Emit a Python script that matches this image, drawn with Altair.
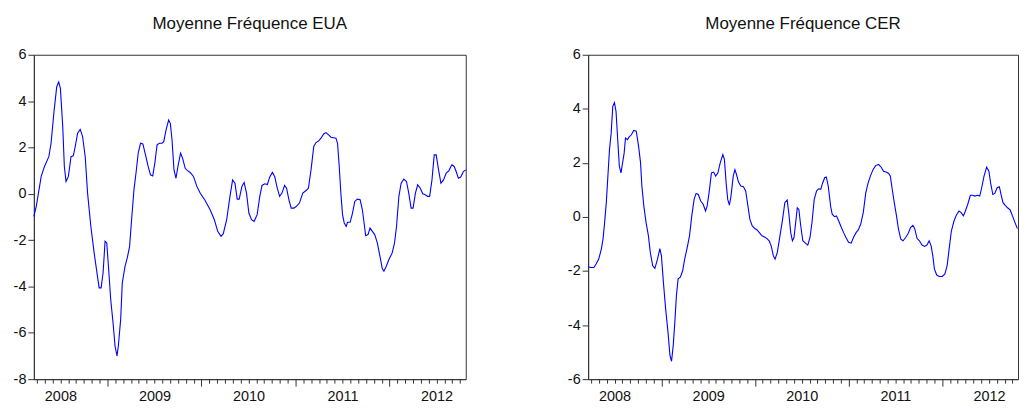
import altair as alt
import pandas as pd

TITLES = ["Moyenne Fréquence EUA", "Moyenne Fréquence CER"]
YEAR_LABELS = [2008, 2009, 2010, 2011, 2012]

EUA_T = [2008.218, 2008.243, 2008.296, 2008.331, 2008.377, 2008.401, 2008.430, 2008.461, 2008.482, 2008.500,
         2008.525, 2008.542, 2008.560, 2008.585, 2008.613, 2008.637, 2008.658, 2008.683, 2008.711, 2008.736,
         2008.764, 2008.789, 2008.824, 2008.859, 2008.884, 2008.912, 2008.933, 2008.954, 2008.975, 2008.993,
         2009.011, 2009.035, 2009.060, 2009.081, 2009.102, 2009.116, 2009.141, 2009.158, 2009.187, 2009.211,
         2009.236, 2009.257, 2009.282, 2009.306, 2009.327, 2009.352, 2009.377, 2009.405, 2009.433, 2009.458,
         2009.482, 2009.504, 2009.528, 2009.553, 2009.581, 2009.599, 2009.623, 2009.651, 2009.669, 2009.687,
         2009.708, 2009.729, 2009.750, 2009.778, 2009.799, 2009.827, 2009.852, 2009.880, 2009.915, 2009.951,
         2009.986, 2010.039, 2010.092, 2010.137, 2010.173, 2010.208, 2010.232, 2010.268, 2010.303, 2010.331,
         2010.356, 2010.380, 2010.401, 2010.430, 2010.454, 2010.479, 2010.504, 2010.532, 2010.560, 2010.592,
         2010.620, 2010.644, 2010.673, 2010.701, 2010.725, 2010.754, 2010.778, 2010.806, 2010.831, 2010.856,
         2010.884, 2010.905, 2010.930, 2010.954, 2010.982, 2011.007, 2011.042, 2011.077, 2011.113, 2011.137,
         2011.165, 2011.194, 2011.218, 2011.246, 2011.271, 2011.299, 2011.324, 2011.352, 2011.377, 2011.405,
         2011.430, 2011.447, 2011.465, 2011.482, 2011.500, 2011.518, 2011.539, 2011.553, 2011.581, 2011.606,
         2011.630, 2011.658, 2011.687, 2011.711, 2011.729, 2011.746, 2011.771, 2011.792, 2011.817, 2011.842,
         2011.870, 2011.898, 2011.923, 2011.940, 2011.965, 2011.993, 2012.028, 2012.053, 2012.074, 2012.099,
         2012.123, 2012.151, 2012.180, 2012.204, 2012.229, 2012.250, 2012.275, 2012.299, 2012.327, 2012.352,
         2012.380, 2012.405, 2012.426, 2012.451, 2012.475, 2012.496, 2012.521, 2012.546, 2012.574, 2012.602,
         2012.630, 2012.662, 2012.687, 2012.708, 2012.732, 2012.757, 2012.785, 2012.810]
EUA_V = [-0.98, -0.55, 0.75, 1.18, 1.60, 2.18, 3.47, 4.62, 4.83, 4.55,
         2.90, 1.18, 0.53, 0.75, 1.60, 1.64, 2.04, 2.61, 2.78, 2.47,
         1.60, 0.03, -1.41, -2.55, -3.27, -4.06, -4.06, -3.41, -2.05, -2.12,
         -3.13, -4.56, -5.57, -6.57, -7.00, -6.57, -5.42, -3.85, -3.13, -2.77,
         -2.27, -1.12, 0.17, 0.96, 1.75, 2.18, 2.15, 1.68, 1.18, 0.82,
         0.77, 1.32, 2.11, 2.18, 2.18, 2.25, 2.75, 3.18, 3.04, 2.32,
         1.03, 0.67, 1.18, 1.75, 1.54, 1.10, 1.00, 0.92, 0.75, 0.32,
         0.03, -0.29, -0.69, -1.12, -1.62, -1.84, -1.72, -1.12, -0.11, 0.60,
         0.46, -0.23, -0.23, 0.32, 0.49, 0.03, -0.83, -1.12, -1.19, -0.90,
         -0.11, 0.36, 0.43, 0.40, 0.72, 0.92, 0.75, 0.24, -0.11, 0.03,
         0.36, 0.24, -0.26, -0.62, -0.62, -0.55, -0.40, 0.03, 0.14, 0.24,
         1.03, 2.04, 2.21, 2.28, 2.40, 2.58, 2.64, 2.54, 2.44, 2.42,
         2.40, 2.18, 1.18, 0.03, -0.90, -1.26, -1.41, -1.23, -1.23, -0.83,
         -0.33, -0.23, -0.26, -0.69, -1.26, -1.81, -1.76, -1.48, -1.62, -1.76,
         -2.12, -2.70, -3.24, -3.34, -3.13, -2.84, -2.55, -2.12, -1.41, -0.11,
         0.46, 0.63, 0.53, 0.03, -0.62, -0.62, 0.03, 0.39, 0.24, 0.00,
         -0.04, -0.11, -0.11, 0.60, 1.68, 1.68, 1.03, 0.46, 0.60, 0.89,
         0.99, 1.25, 1.18, 0.96, 0.67, 0.72, 0.96, 1.03]

CER_T = [2008.220, 2008.244, 2008.279, 2008.303, 2008.331, 2008.359, 2008.377, 2008.394, 2008.412, 2008.429,
         2008.446, 2008.464, 2008.481, 2008.499, 2008.516, 2008.534, 2008.551, 2008.569, 2008.586, 2008.603,
         2008.617, 2008.638, 2008.656, 2008.680, 2008.705, 2008.732, 2008.757, 2008.778, 2008.792, 2008.813,
         2008.837, 2008.862, 2008.882, 2008.907, 2008.931, 2008.959, 2008.984, 2009.001, 2009.022, 2009.046,
         2009.071, 2009.092, 2009.109, 2009.127, 2009.144, 2009.161, 2009.179, 2009.203, 2009.228, 2009.249,
         2009.273, 2009.301, 2009.325, 2009.350, 2009.371, 2009.395, 2009.420, 2009.447, 2009.472, 2009.489,
         2009.510, 2009.535, 2009.559, 2009.580, 2009.604, 2009.629, 2009.657, 2009.674, 2009.692, 2009.709,
         2009.727, 2009.744, 2009.768, 2009.786, 2009.803, 2009.824, 2009.849, 2009.877, 2009.901, 2009.925,
         2009.946, 2009.971, 2009.999, 2010.023, 2010.051, 2010.075, 2010.103, 2010.128, 2010.152, 2010.173,
         2010.197, 2010.215, 2010.239, 2010.267, 2010.295, 2010.319, 2010.344, 2010.361, 2010.382, 2010.400,
         2010.417, 2010.435, 2010.452, 2010.469, 2010.487, 2010.511, 2010.539, 2010.564, 2010.588, 2010.609,
         2010.633, 2010.658, 2010.679, 2010.703, 2010.721, 2010.745, 2010.762, 2010.783, 2010.808, 2010.825,
         2010.850, 2010.871, 2010.895, 2010.923, 2010.947, 2010.972, 2011.000, 2011.028, 2011.052, 2011.080,
         2011.104, 2011.129, 2011.157, 2011.184, 2011.209, 2011.233, 2011.261, 2011.289, 2011.321, 2011.349,
         2011.373, 2011.401, 2011.429, 2011.446, 2011.464, 2011.488, 2011.512, 2011.533, 2011.558, 2011.582,
         2011.610, 2011.638, 2011.662, 2011.687, 2011.708, 2011.732, 2011.757, 2011.784, 2011.812, 2011.837,
         2011.861, 2011.882, 2011.900, 2011.917, 2011.942, 2011.969, 2012.001, 2012.029, 2012.053, 2012.074,
         2012.098, 2012.126, 2012.151, 2012.179, 2012.203, 2012.227, 2012.248, 2012.273, 2012.301, 2012.325,
         2012.349, 2012.377, 2012.401, 2012.422, 2012.447, 2012.475, 2012.499, 2012.517, 2012.541, 2012.562,
         2012.587, 2012.611, 2012.629, 2012.650, 2012.674, 2012.698, 2012.726, 2012.751, 2012.775, 2012.803]
CER_V = [-1.84, -1.87, -1.87, -1.74, -1.56, -1.19, -0.82, -0.21, 0.53, 1.51,
         2.49, 3.10, 4.09, 4.23, 3.90, 2.86, 1.88, 1.63, 2.00, 2.37,
         2.92, 2.86, 2.96, 3.04, 3.20, 3.17, 2.61, 2.00, 1.14, 0.40,
         -0.21, -0.70, -1.31, -1.80, -1.90, -1.56, -1.17, -1.44, -2.42, -3.40,
         -4.26, -5.12, -5.34, -4.75, -3.89, -2.91, -2.29, -2.23, -1.99, -1.56,
         -1.19, -0.70, 0.04, 0.65, 0.87, 0.83, 0.59, 0.47, 0.22, 0.40,
         0.90, 1.63, 1.66, 1.51, 1.63, 2.00, 2.31, 2.12, 1.26, 0.65,
         0.44, 0.77, 1.51, 1.75, 1.57, 1.29, 1.14, 1.12, 0.96, 0.40,
         -0.09, -0.33, -0.43, -0.48, -0.60, -0.70, -0.74, -0.80, -0.88, -1.07,
         -1.44, -1.56, -1.31, -0.70, -0.09, 0.53, 0.63, 0.16, -0.58, -0.88,
         -0.76, -0.21, 0.34, 0.28, -0.27, -0.88, -0.97, -1.04, -0.76, -0.21,
         0.65, 0.96, 1.04, 1.02, 1.24, 1.45, 1.48, 1.14, 0.40, 0.10,
         0.01, 0.04, -0.15, -0.39, -0.58, -0.76, -0.94, -0.97, -0.76, -0.58,
         -0.48, -0.27, 0.16, 0.90, 1.26, 1.51, 1.75, 1.90, 1.94, 1.84,
         1.69, 1.66, 1.61, 1.51, 1.08, 0.53, 0.04, -0.45, -0.82, -0.88,
         -0.76, -0.60, -0.39, -0.31, -0.45, -0.80, -0.88, -1.04, -1.09, -1.04,
         -0.88, -1.07, -1.44, -1.93, -2.15, -2.20, -2.20, -2.11, -1.80, -1.19,
         -0.52, -0.15, 0.06, 0.22, 0.16, 0.04, 0.22, 0.47, 0.80, 0.80,
         0.77, 0.80, 0.77, 1.08, 1.51, 1.84, 1.69, 1.26, 0.83, 0.87,
         1.08, 1.12, 0.83, 0.53, 0.43, 0.34, 0.26, 0.04, -0.18, -0.43]

X_DOMAIN = [2008.218, 2012.81]
MONTH_TICKS = [2008 + m / 12 for m in range(3, 58)]

FONT = "Liberation Sans"
INK = "#333333"


def panel(t, v, title, ymin, ymax, width):
    df = pd.DataFrame({"t": t, "v": v})
    return alt.Chart(df, title=title).mark_line(color="#0000FF", strokeWidth=1.1).encode(
        x=alt.X("t:Q",
                scale=alt.Scale(domain=X_DOMAIN, nice=False, zero=False),
                axis=alt.Axis(values=MONTH_TICKS, title=None, grid=False,
                              tickSize={"condition": {"test": "abs(datum.value - round(datum.value)) < 0.01", "value": 7}, "value": 4},
                              labelExpr="abs(datum.value - floor(datum.value) - 0.5) < 0.01 ? '' + floor(datum.value) : ''",
                              labelOverlap=False, labelFlush=False, labelBound=False,
                              labelPadding=6, domainColor=INK, tickColor=INK)),
        y=alt.Y("v:Q",
                scale=alt.Scale(domain=[ymin, ymax], nice=False, zero=False),
                axis=alt.Axis(values=list(range(ymin, ymax + 1, 2)), title=None, grid=False,
                              tickSize=6, labelPadding=2, labelExpr="'' + datum.value",
                              domainColor=INK, tickColor=INK)),
    ).properties(width=width, height=326)


left = panel(EUA_T, EUA_V, TITLES[0], -8, 6, 434)
right = panel(CER_T, CER_V, TITLES[1], -6, 6, 432)

chart = alt.hconcat(left, right, spacing=98).configure_view(
    stroke=INK, strokeWidth=1
).configure_axis(
    labelFont=FONT, labelFontSize=14.5, labelColor="#111111"
).configure_title(
    font=FONT, fontSize=17, fontWeight="normal", color="#111111", offset=14
).properties(padding={"left": 4, "top": 5, "right": 0, "bottom": 0})

chart.save("out.html", embed_options={"renderer": "svg", "actions": False})
